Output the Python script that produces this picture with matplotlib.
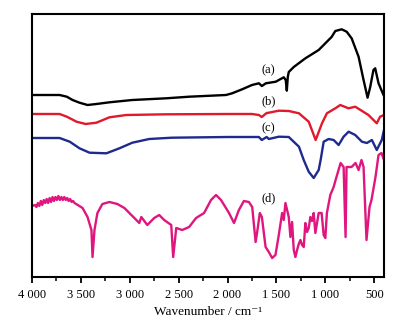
import matplotlib
matplotlib.use("Agg")
import matplotlib.pyplot as plt
from matplotlib.ticker import MultipleLocator, FuncFormatter

# ---- data (wavenumber cm^-1, arbitrary transmittance units) ----
wn_a = [4000, 3718, 3644, 3585, 3514, 3432, 3341, 3208, 2974, 2627, 2393, 2016, 1953,
        1851, 1750, 1680, 1649, 1608, 1507, 1425, 1405, 1394, 1384, 1374, 1323, 1204,
        1068, 987, 936, 898, 833, 782, 731, 660, 609, 568, 541, 508, 490, 456, 405, 400]
y_a = [182, 182, 180.3, 177, 174.3, 172, 173, 174.7, 177, 178.7, 180.3, 182, 183.7,
       187.7, 192, 193.7, 191, 193.7, 195.3, 199.7, 197, 186.3, 200, 205, 210, 218.7,
       227, 235, 240, 246, 247.7, 245.3, 238.7, 220.3, 197, 179.3, 190, 207, 208.7, 193.7, 182, 181]

wn_b = [4000, 3718, 3644, 3544, 3452, 3341, 3208, 3035, 2627, 2000, 1750, 1680, 1650,
        1600, 1578, 1476, 1374, 1270, 1170, 1099, 1034, 984, 898, 847, 763, 694, 559,
        474, 440, 400]
y_b = [163, 163, 160.3, 155.3, 153, 154.3, 159.7, 162, 162.7, 163, 163, 162, 160,
       164, 164.3, 166.3, 166, 163.7, 155.3, 137, 153.7, 163.7, 168.7, 172, 168.7, 170.3, 162,
       153.7, 160.3, 162]

wn_c = [4000, 3718, 3614, 3514, 3412, 3239, 3106, 2974, 2801, 2570, 2000, 1680, 1650,
        1600, 1578, 1476, 1374, 1270, 1221, 1170, 1119, 1068, 1048, 1017, 966, 915, 864,
        813, 762, 694, 626, 575, 524, 474, 423, 400]
y_c = [139, 139, 135.3, 128.7, 124.3, 123.7, 128.7, 134.3, 138, 139.3, 140, 140, 137,
       140, 138, 140.3, 140, 130.3, 117, 105.3, 99, 107, 117, 135.3, 138, 137, 132,
       140.3, 145.3, 142, 135.3, 134, 137, 127, 137, 147]

wn_d = [4000, 3970, 3955, 3940, 3925, 3910, 3895, 3880, 3865, 3850, 3835, 3820, 3805,
        3790, 3775, 3760, 3745, 3730, 3715, 3700, 3685, 3670, 3655, 3640, 3625, 3610,
        3595, 3580, 3565, 3483, 3432, 3392, 3381, 3361, 3331, 3280, 3208,
        3127, 3055, 2984, 2953, 2903, 2882, 2821, 2750, 2699, 2648, 2576, 2556,
        2525, 2464, 2393, 2322, 2240, 2169, 2118, 2067, 1985, 1934, 1884, 1833,
        1782, 1748, 1713, 1697, 1670, 1649, 1611, 1578, 1544, 1510, 1476, 1442,
        1425, 1408, 1391, 1374, 1357, 1340, 1323, 1306, 1289, 1272, 1255, 1238,
        1221, 1204, 1187, 1170, 1153, 1136, 1119, 1102, 1068, 1038, 1017, 1000,
        984, 949, 915, 895, 844, 813, 793,
        783, 732, 691, 660, 630, 609, 579, 548, 528, 487, 456, 426, 400]
y_d = [71, 72, 70, 74, 71, 76, 72, 77, 74, 78, 74, 79, 75,
       80, 76, 80, 77, 81, 77, 80, 77, 80, 77, 79, 76, 78,
       75, 76, 74, 69, 60, 47, 20, 47, 64, 73, 75,
       73, 69, 62, 59, 54, 60, 52, 59, 62, 57, 52, 20,
       49, 47, 50, 59, 64, 77, 82, 77, 64, 54, 67, 76,
       75, 70, 35, 45, 64, 60, 30, 25, 19, 22, 42, 64,
       57, 74, 67, 60, 40, 55, 27, 20, 27, 33, 37, 32,
       30, 54, 45, 49, 60, 56, 64, 44, 64, 64, 42, 39,
       64, 82, 90, 97, 114, 110, 40,
       110, 110, 114, 107, 117, 110, 37, 70, 77, 100, 122, 124, 117]

labels = ["(a)", "(b)", "(c)", "(d)"]
label_wn = [1580, 1580, 1580, 1580]
label_y = [207, 176, 149, 79]

colors = ["#000000", "#e01a2c", "#1e2a8c", "#e0167f"]

plt.rcParams['font.family'] = ['Liberation Serif', 'DejaVu Serif']

fig = plt.figure(figsize=(4.1, 3.25), dpi=100)
ax = fig.add_axes([32/410, 48/325, 352/410, 263/325])

for wn, y, c in zip([wn_a, wn_b, wn_c, wn_d], [y_a, y_b, y_c, y_d], colors):
    ax.plot(wn, y, color=c, lw=1.7, solid_joinstyle='round')

for t, xw, yv in zip(labels, label_wn, label_y):
    ax.text(xw, yv, t, ha='center', va='center', fontsize=9)

ax.set_xlim(4000, 400)
ax.set_ylim(0, 263)
ax.xaxis.set_major_locator(MultipleLocator(500))
ax.xaxis.set_minor_locator(MultipleLocator(250))
ax.xaxis.set_major_formatter(FuncFormatter(
    lambda v, p: (f"{int(v):,}".replace(",", " "))))
ax.set_yticks([])
ax.tick_params(axis='x', which='major', direction='out', length=4, width=1.3,
               labelsize=9, pad=5)
ax.tick_params(axis='x', which='minor', direction='out', length=3, width=1.1)
for s in ax.spines.values():
    s.set_linewidth(1.5)
ax.set_xlabel("Wavenumber / cm\u207b\u00b9", fontsize=9.5, labelpad=3)

fig.savefig("out.png", dpi=100)
